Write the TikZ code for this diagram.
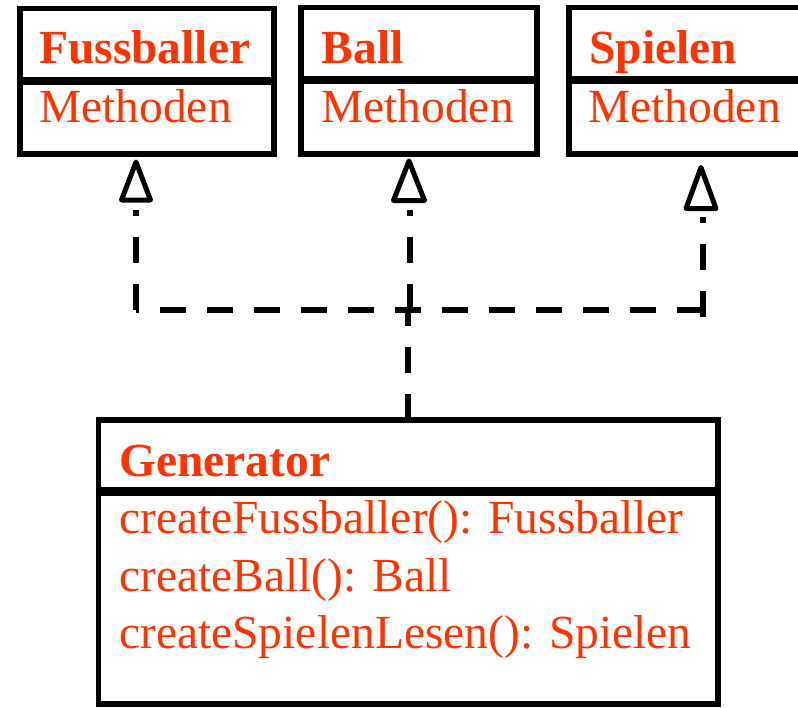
\documentclass[tikz,border=0pt]{standalone}
\usepackage{fontspec}
\setmainfont{Liberation Serif}
\definecolor{umlred}{RGB}{255,51,0}
\tikzset{
  umlbox/.style={draw=black, line width=5.5pt, rectangle, inner sep=0pt, outer sep=0pt, anchor=north west},
  sepline/.style={draw=black, line width=8.5pt},
  titletext/.style={inner sep=0pt, anchor=base west, text=umlred, font=\fontsize{47.5}{55}\selectfont\bfseries},
  bodytext/.style={inner sep=0pt, anchor=base west, text=umlred, font=\fontsize{47.5}{55}\selectfont},
  dashline/.style={draw=black, line width=6pt, dash pattern=on 26pt off 21pt},
  openhead/.style={draw=black, fill=white, line width=5pt, line join=round}
}
\begin{document}
\begin{tikzpicture}[x=1pt, y=-1pt]
\useasboundingbox (0,0) rectangle (798,707);
\clip (0,0) rectangle (798,707);
\fill[white] (0,0) rectangle (798,707);

% top class boxes
\node[umlbox, minimum width=254pt, minimum height=145.5pt] (fuss) at (20,8.5) {};
\node[umlbox, minimum width=236pt, minimum height=146.5pt] (ball) at (301,7.5) {};
\node[umlbox, minimum width=270pt, minimum height=146.5pt] (spiel) at (569,7.5) {};

\draw[sepline] (fuss.west |- 0,81) -- (fuss.east |- 0,81);
\draw[sepline] (ball.west |- 0,80) -- (ball.east |- 0,80);
\draw[sepline] (spiel.west |- 0,80) -- (spiel.east |- 0,80);

\node[titletext] (fusst) at (39,63) {Fussballer};
\node[bodytext] (fussm) at (39,122) {Methoden};
\node[titletext] (ballt) at (321.5,63) {Ball};
\node[bodytext] (ballm) at (321,122) {Methoden};
\node[titletext] (spielt) at (589,63) {Spielen};
\node[bodytext] (spielm) at (588,122) {Methoden};

% generator box
\node[umlbox, minimum width=619.3pt, minimum height=284pt] (gen) at (98.7,420) {};
\draw[sepline] (gen.west |- 0,491.5) -- (gen.east |- 0,491.5);
\node[titletext] (gent) at (119,476) {Generator};
\node[bodytext] (genm1) at (119,533) {createFussballer(): Fussballer};
\node[bodytext] (genm2) at (119,591) {createBall(): Ball};
\node[bodytext] (genm3) at (119,648) {createSpielenLesen(): Spielen};

% connector points
\coordinate (genTop) at (408,420);
\coordinate (jMid) at (408,310);
\coordinate (jFuss) at (136,310);
\coordinate (jBall) at (410,310);
\coordinate (jSpiel) at (703,310);
\coordinate (jSpielLow) at (703,317);
\coordinate (eFuss) at (136,210);
\coordinate (eBall) at (410,210);
\coordinate (eSpiel) at (703,217);
\coordinate (tFuss) at (136,162);
\coordinate (tBall) at (409,161);
\coordinate (tSpiel) at (701,167.5);

% dashed realization lines
\draw[dashline] (genTop) -- (jMid);
\draw[dashline] (jSpiel) -- (jFuss);
\draw[dashline] (jFuss) -- (eFuss);
\draw[dashline] (jBall) -- (eBall);
\draw[dashline] (jSpielLow) -- (eSpiel);

% hollow triangle heads
\draw[openhead] (tFuss) -- ++(-14.5,38) -- ++(29,0) -- cycle;
\draw[openhead] (tBall) -- ++(-15.5,39.5) -- ++(31,0) -- cycle;
\draw[openhead] (tSpiel) -- ++(-15,41) -- ++(30,0) -- cycle;
\end{tikzpicture}
\end{document}
